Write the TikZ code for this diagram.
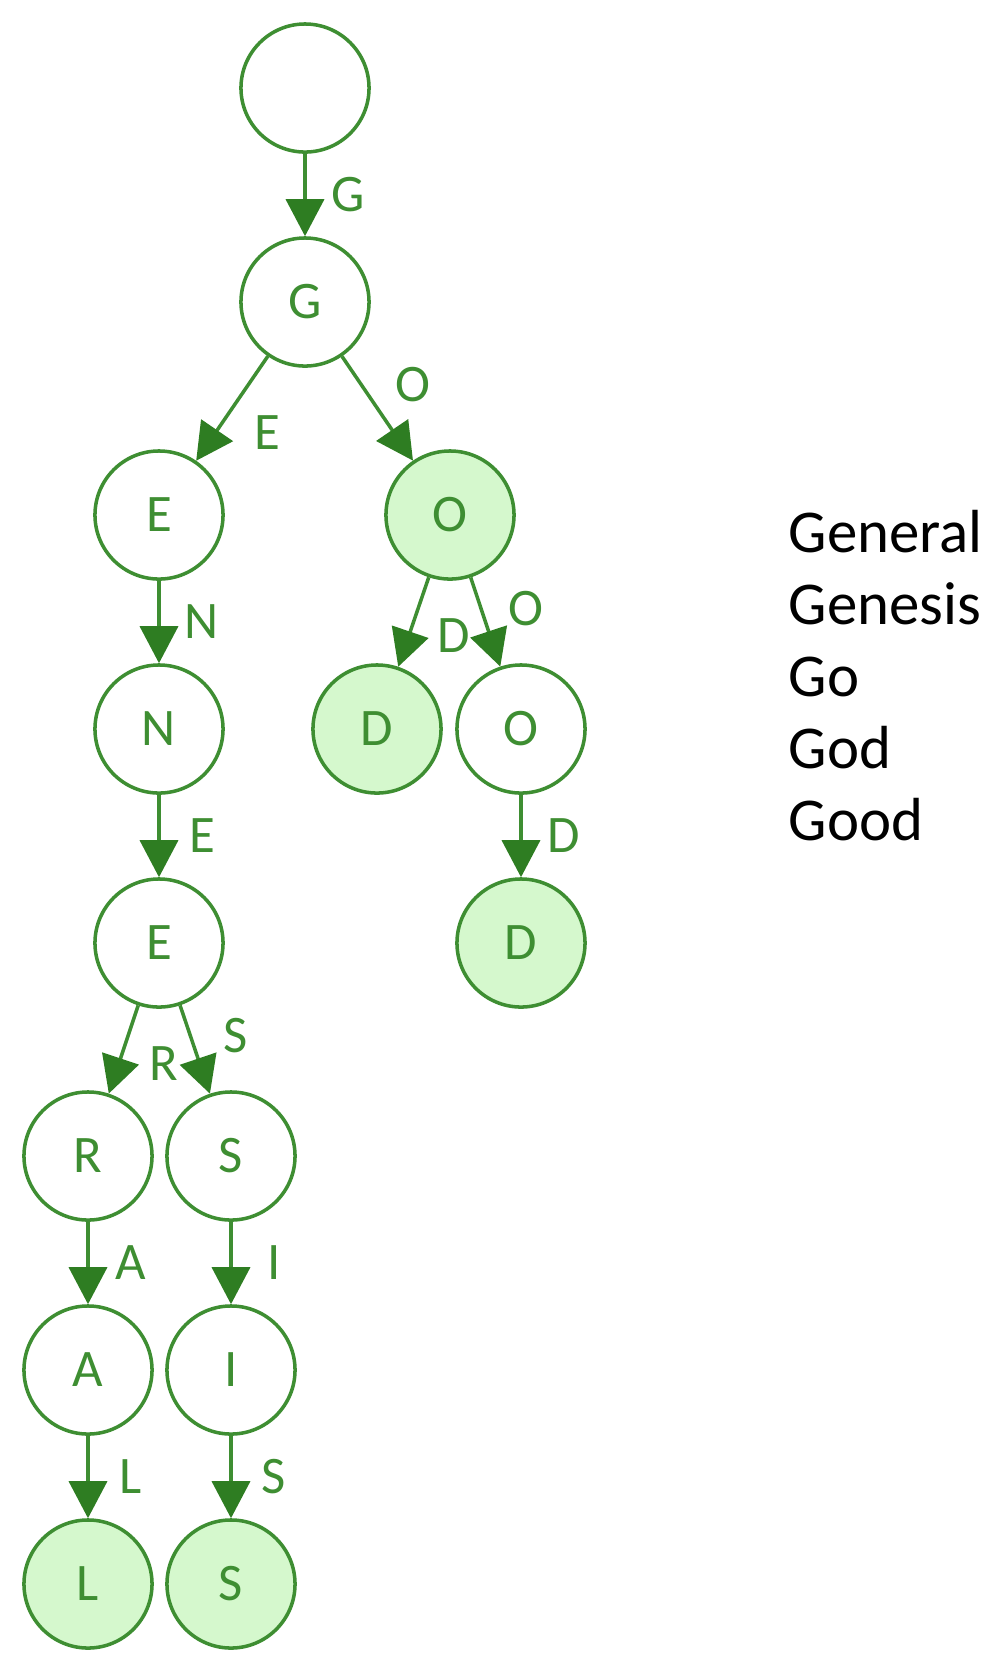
\documentclass[tikz,border=0pt]{standalone}
\usepackage{fontspec}
\setmainfont{Carlito}
\usetikzlibrary{arrows.meta,calc}
\definecolor{trieline}{HTML}{3E8E32}
\definecolor{triearrow}{HTML}{2E7D22}
\definecolor{triefill}{HTML}{D5F8CD}

\begin{document}
\begin{tikzpicture}[x=0.01cm,y=-0.01cm,
    trie/.style={circle,draw=trieline,line width=1pt,minimum size=1.28cm,inner sep=0pt,
        text=trieline,font=\fontsize{15}{18}\selectfont},
    word/.style={trie,fill=triefill},
    link/.style={draw=trieline,line width=1pt,
        -{Triangle[length=0.37cm,width=0.38cm,color=triearrow]}},
    lbl/.style={inner sep=0pt,text=trieline,font=\fontsize{15}{18}\selectfont},
    entry/.style={anchor=base west,inner sep=0pt,font=\fontsize{17.3}{20}\selectfont}]
    \useasboundingbox (0,0) rectangle (1000,1662);
    % trie nodes
    \node[trie] (root) at (305,88) {};
    \node[trie] (g) at (305,302) {G};
    \node[trie] (ge) at (159,515) {E};
    \node[word] (go) at (450,515) {O};
    \node[trie] (gen) at (159,729) {N};
    \node[word] (god) at (377,729) {D};
    \node[trie] (goo) at (521,729) {O};
    \node[trie] (gene) at (159,943) {E};
    \node[word] (good) at (521,943) {D};
    \node[trie] (gener) at (88,1156) {R};
    \node[trie] (genes) at (231,1156) {S};
    \node[trie] (genera) at (88,1370) {A};
    \node[trie] (genesi) at (231,1370) {I};
    \node[word] (general) at (88,1584) {L};
    \node[word] (genesis) at (231,1584) {S};
    % links
    \draw[link] (root) -- (g);
    \draw[link] (g) -- (ge);
    \draw[link] (g) -- (go);
    \draw[link] (ge) -- (gen);
    \draw[link] (go) -- (god);
    \draw[link] (go) -- (goo);
    \draw[link] (gen) -- (gene);
    \draw[link] (goo) -- (good);
    \draw[link] (gene) -- (gener);
    \draw[link] (gene) -- (genes);
    \draw[link] (gener) -- (genera);
    \draw[link] (genes) -- (genesi);
    \draw[link] (genera) -- (general);
    \draw[link] (genesi) -- (genesis);
    % link letters, beside the middle of each link
    \node[lbl] (l1) at ($(root)!.5!(g)!0.43cm!90:(g)$) {G};
    \node[lbl] (l2) at ($(g)!.5!(ge)!0.43cm!90:(ge)$) {E};
    \node[lbl] (l3) at ($(g)!.5!(go)!0.43cm!90:(go)$) {O};
    \node[lbl] (l4) at ($(ge)!.5!(gen)!0.43cm!90:(gen)$) {N};
    \node[lbl] (l5) at ($(go)!.5!(god)!0.43cm!90:(god)$) {D};
    \node[lbl] (l6) at ($(go)!.5!(goo)!0.43cm!90:(goo)$) {O};
    \node[lbl] (l7) at ($(gen)!.5!(gene)!0.43cm!90:(gene)$) {E};
    \node[lbl] (l8) at ($(goo)!.5!(good)!0.43cm!90:(good)$) {D};
    \node[lbl] (l9) at ($(gene)!.5!(gener)!0.43cm!90:(gener)$) {R};
    \node[lbl] (l10) at ($(gene)!.5!(genes)!0.43cm!90:(genes)$) {S};
    \node[lbl] (l11) at ($(gener)!.5!(genera)!0.43cm!90:(genera)$) {A};
    \node[lbl] (l12) at ($(genes)!.5!(genesi)!0.43cm!90:(genesi)$) {I};
    \node[lbl] (l13) at ($(genera)!.5!(general)!0.43cm!90:(general)$) {L};
    \node[lbl] (l14) at ($(genesi)!.5!(genesis)!0.43cm!90:(genesis)$) {S};
    % word list
    \node[entry] (w1) at (788,552) {General};
    \node[entry] (w2) at (788,624) {Genesis};
    \node[entry] (w3) at (788,696) {Go};
    \node[entry] (w4) at (788,768) {God};
    \node[entry] (w5) at (788,840) {Good};
\end{tikzpicture}
\end{document}
